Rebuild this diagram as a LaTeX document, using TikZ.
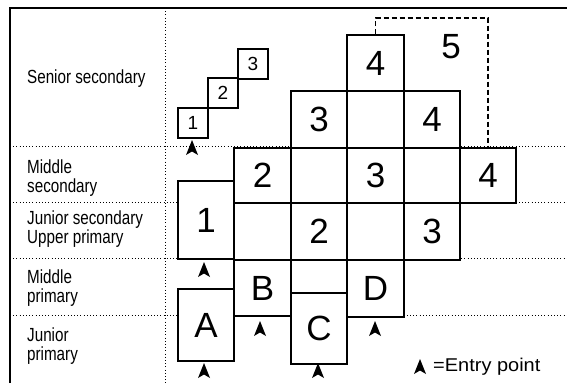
\documentclass[tikz,border=0pt]{standalone}
\usepackage{fontspec}
\setmainfont{Liberation Sans}
\newfontfamily\labfont[FakeStretch=0.8]{Liberation Sans}
\newfontfamily\legfont[FakeStretch=1.08]{Liberation Sans}
\begin{document}
\begin{tikzpicture}[x=1pt,y=-1pt,
  cell/.style={draw,line width=2.1pt,fill=white,anchor=north west,inner sep=0pt,
    font=\fontsize{35}{35}\selectfont},
  small/.style={draw,line width=1.8pt,fill=white,anchor=north west,inner sep=0pt,
    minimum width=30pt,minimum height=30pt,font=\fontsize{19}{19}\selectfont},
  lab/.style={anchor=west,align=left,inner sep=0pt,font=\labfont\fontsize{19}{18.5}\selectfont},
  sep/.style={line width=0.9pt,dash pattern=on 1pt off 2.2pt},
  entrymark/.style={fill=black}]
\useasboundingbox (0,0) rectangle (567,383);
% frame
\draw[line width=1.5pt] (10,383) -- (10,8) -- (567,8);
% separators
\draw[sep] (165,8) -- (165,383);
\foreach \yy in {146,202,258,315} \draw[sep] (10,\yy) -- (567,\yy);
% labels
\node[lab] (l1) at (27,79) {Senior secondary};
\node[lab] (l2) at (27,178) {Middle\\secondary};
\node[lab] (l3) at (27,229) {Junior secondary\\Upper primary};
\node[lab] (l4) at (27,288) {Middle\\primary};
\node[lab] (l5) at (27,346) {Junior\\primary};
% small staircase
\node[small] (s1) at (177,107) {1};
\node[small] (s2) at (207,77) {2};
\node[small] (s3) at (237,48) {3};
% top
\node[cell,minimum width=57pt,minimum height=56pt] (t4) at (346,34) {4};
% row 90-147
\node[cell,minimum width=56pt,minimum height=57pt] (r3) at (290,90) {3};
\node[cell,minimum width=57pt,minimum height=57pt] (r0) at (346,90) {};
\node[cell,minimum width=56pt,minimum height=57pt] (r4) at (403,90) {4};
% row 147-202
\node[cell,minimum width=57pt,minimum height=55pt] (m2) at (233,147) {2};
\node[cell,minimum width=56pt,minimum height=55pt] (m0a) at (290,147) {};
\node[cell,minimum width=57pt,minimum height=55pt] (m3) at (346,147) {3};
\node[cell,minimum width=56pt,minimum height=55pt] (m0b) at (403,147) {};
\node[cell,minimum width=56pt,minimum height=55pt] (m4) at (459,147) {4};
% row 202-259
\node[cell,minimum width=57pt,minimum height=57pt] (j0a) at (233,202) {};
\node[cell,minimum width=56pt,minimum height=57pt] (j2) at (290,202) {2};
\node[cell,minimum width=57pt,minimum height=57pt] (j0b) at (346,202) {};
\node[cell,minimum width=56pt,minimum height=57pt] (j3) at (403,202) {3};
% box 1
\node[cell,minimum width=56pt,minimum height=78pt] (b1) at (177,180) {1};
% primary
\node[cell,minimum width=56pt,minimum height=72pt] (bA) at (177,288) {A};
\node[cell,minimum width=57pt,minimum height=56pt,text depth=-4pt] (bB) at (233,259) {B};
\node[cell,minimum width=56pt,minimum height=33pt] (bE) at (290,259) {};
\node[cell,minimum width=56pt,minimum height=71pt] (bC) at (290,292) {C};
\node[cell,minimum width=57pt,minimum height=57pt,text depth=-4pt] (bD) at (346,259) {D};
% dashed year 5
\draw[line width=1.6pt,dash pattern=on 5pt off 3pt] (t4.north) -- (t4.north |- 0,18) -| (m4.north);
\node[font=\fontsize{35}{35}\selectfont] (n5) at (451,47) {5};
% entry points
\foreach \px/\py in {192/148,204/270,204/371,260/329,318/371,375/329,420/367}
  \fill[entrymark] (\px,\py) ++(0,-8) -- ++(6,15) -- ++(-6,-3.5) -- ++(-6,3.5) -- cycle;
\node[anchor=west,inner sep=0pt,font=\legfont\fontsize{18.5}{18}\selectfont] (leg) at (433,367) {=Entry point};
\end{tikzpicture}
\end{document}
